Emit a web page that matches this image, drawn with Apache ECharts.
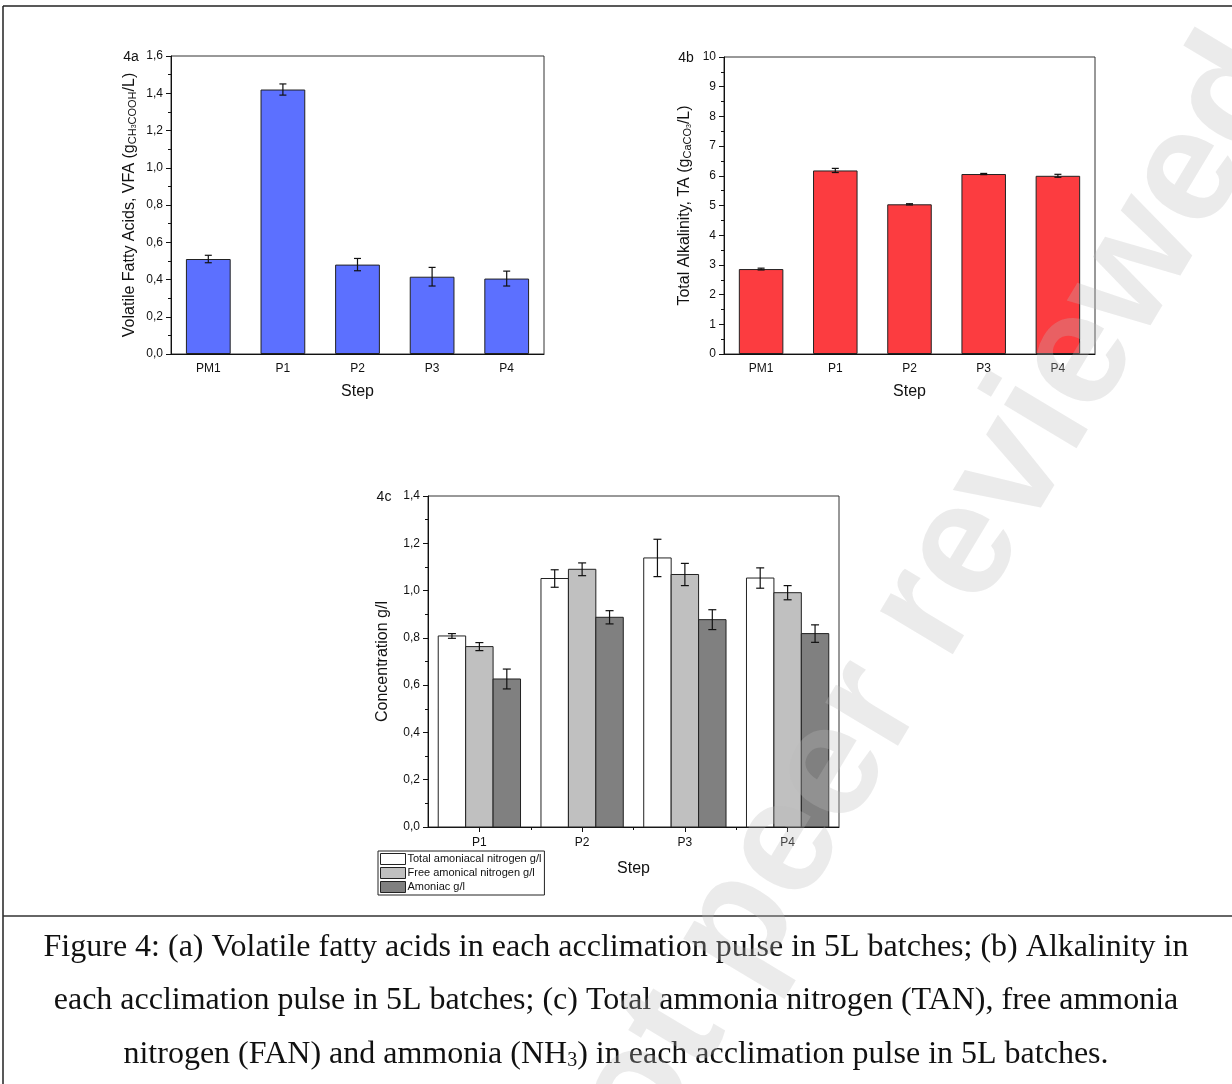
<!DOCTYPE html>
<html>
<head>
<meta charset="utf-8">
<script src="https://cdn.jsdelivr.net/npm/echarts@6/dist/echarts.min.js"></script>
<style>
  html, body { margin: 0; padding: 0; background: #fff; }
  #chart { width: 1232px; height: 1084px; }
</style>
</head>
<body>
<div id="chart"></div>
<script>
// Figure 4 data: VFA, alkalinity and nitrogen species per acclimation step
const vfaSteps = ['PM1', 'P1', 'P2', 'P3', 'P4'];
const vfaValues = [0.51, 1.42, 0.48, 0.415, 0.405];
const vfaErrors = [0.02, 0.03, 0.033, 0.05, 0.04];

const taSteps = ['PM1', 'P1', 'P2', 'P3', 'P4'];
const taValues = [2.86, 6.18, 5.04, 6.06, 6.00];
const taErrors = [0.03, 0.07, 0.02, 0.02, 0.05];

const nSteps = ['P1', 'P2', 'P3', 'P4'];
const nSeriesNames = ['Total amoniacal nitrogen g/l', 'Free amonical nitrogen g/l', 'Amoniac g/l'];
const tanValues = [0.808, 1.051, 1.138, 1.053];
const tanErrors = [0.01, 0.037, 0.079, 0.043];
const fanValues = [0.763, 1.090, 1.068, 0.991];
const fanErrors = [0.017, 0.027, 0.047, 0.03];
const nh3Values = [0.626, 0.887, 0.877, 0.818];
const nh3Errors = [0.042, 0.028, 0.042, 0.037];

const vfaTicks = { min: 0, max: 1.6, interval: 0.2 };
const taTicks = { min: 0, max: 10, interval: 1 };
const nTicks = { min: 0, max: 1.4, interval: 0.2 };

const FONT = "'Liberation Sans', Arial, sans-serif";
const SERIF = "'Liberation Serif', 'Times New Roman', serif";
const comma = v => v.toFixed(1).replace('.', ',');
const INK = '#111';

const chart = echarts.init(document.getElementById('chart'));

const subStyles = {
  s: { fontSize: 11, verticalAlign: 'bottom', fontFamily: FONT, color: INK },
  t: { fontSize: 7, verticalAlign: 'bottom', fontFamily: FONT, color: INK }
};

function yAxis(gridIndex, ticks, name, nameGap, fmt) {
  return {
    type: 'value', gridIndex, min: ticks.min, max: ticks.max, interval: ticks.interval,
    name, nameLocation: 'middle', nameRotate: 90, nameGap,
    nameTextStyle: { fontFamily: FONT, fontSize: 16, color: INK, rich: subStyles },
    axisLine: { show: true, lineStyle: { color: INK, width: 1 } },
    axisTick: { show: true, length: 5, lineStyle: { color: INK } },
    minorTick: { show: true, splitNumber: 2, length: 3, lineStyle: { color: INK } },
    splitLine: { show: false }, minorSplitLine: { show: false },
    axisLabel: { fontFamily: FONT, fontSize: 12, color: INK, margin: 8, formatter: fmt }
  };
}

function catAxes(gridIndex, cats) {
  return [
    {
      type: 'category', gridIndex, data: cats, position: 'bottom',
      name: 'Step', nameLocation: 'middle', nameGap: 30,
      nameTextStyle: { fontFamily: FONT, fontSize: 16, color: INK },
      axisLine: { lineStyle: { color: INK, width: 1 } },
      axisTick: { alignWithLabel: true, length: 5, lineStyle: { color: INK } },
      axisLabel: { fontFamily: FONT, fontSize: 12, color: INK, margin: 9 }
    },
    {
      type: 'category', gridIndex, data: cats, position: 'bottom', offset: 0,
      axisLine: { show: false },
      axisTick: { alignWithLabel: false, length: 3, lineStyle: { color: INK } },
      axisLabel: { show: false }
    }
  ];
}

// error bar: vertical whisker with caps, in data coordinates
function whisker(api, x, v, e, cap) {
  const lo = api.coord([x, v - e]);
  const hi = api.coord([x, v + e]);
  const st = { stroke: INK, lineWidth: 1.2 };
  return [
    { type: 'line', shape: { x1: lo[0], y1: lo[1], x2: hi[0], y2: hi[1] }, style: st },
    { type: 'line', shape: { x1: lo[0] - cap, y1: lo[1], x2: lo[0] + cap, y2: lo[1] }, style: st },
    { type: 'line', shape: { x1: hi[0] - cap, y1: hi[1], x2: hi[0] + cap, y2: hi[1] }, style: st }
  ];
}

function errorSeries(xAxisIndex, yAxisIndex, values, errors) {
  return {
    type: 'custom', xAxisIndex, yAxisIndex, z: 5, silent: true,
    data: values.map((v, i) => [i, v, errors[i]]),
    renderItem: (params, api) => ({
      type: 'group',
      children: whisker(api, api.value(0), api.value(1), api.value(2), 3.5)
    })
  };
}

// grouped bars of panel c on a value x-axis (step number 1..4)
const groupShare = 0.267;
function nitrogenSeries(k, name, values, errors, color) {
  return {
    type: 'custom', name, xAxisIndex: 4, yAxisIndex: 2,
    itemStyle: { color },
    data: values.map((v, i) => [i + 1, v, errors[i]]),
    renderItem: (params, api) => {
      const x = api.value(0), v = api.value(1), e = api.value(2);
      const x0 = x + (k - 1.5) * groupShare, x1 = x0 + groupShare;
      const a = api.coord([x0, v]);
      const b = api.coord([x1, 0]);
      const xc = (x0 + x1) / 2;
      return {
        type: 'group',
        children: [
          { type: 'rect', shape: { x: a[0], y: a[1], width: b[0] - a[0], height: b[1] - a[1] },
            style: { fill: color, stroke: '#222', lineWidth: 1 } }
        ].concat(whisker(api, xc, v, e, 4))
      };
    }
  };
}

const gridStyle = { show: true, borderColor: '#333', borderWidth: 1, backgroundColor: 'transparent' };

function centeredText(x, y, text, font, extra) {
  return {
    type: 'text', x, y, silent: true,
    style: Object.assign({ text, font, fill: INK, align: 'center', textAlign: 'center',
      verticalAlign: 'middle', textVerticalAlign: 'middle' }, extra || {})
  };
}

const option = {
  animation: false,
  backgroundColor: '#fff',
  textStyle: { fontFamily: FONT },
  grid: [
    Object.assign({ left: 171, top: 56, width: 373, height: 298 }, gridStyle),
    Object.assign({ left: 724, top: 57, width: 371, height: 297 }, gridStyle),
    Object.assign({ left: 428, top: 496, width: 411, height: 331 }, gridStyle)
  ],
  xAxis: [
    ...catAxes(0, vfaSteps),
    ...catAxes(1, taSteps),
    {
      type: 'value', gridIndex: 2, min: 0.5, max: 4.5, position: 'bottom',
      name: 'Step', nameLocation: 'middle', nameGap: 34,
      nameTextStyle: { fontFamily: FONT, fontSize: 16, color: INK },
      axisLine: { lineStyle: { color: INK, width: 1 } },
      axisTick: { show: true, length: 5, customValues: [1, 2, 3, 4], lineStyle: { color: INK } },
      axisLabel: { fontFamily: FONT, fontSize: 12, color: INK, margin: 10,
        customValues: [1, 2, 3, 4], formatter: v => nSteps[Math.round(v) - 1] },
      splitLine: { show: false }
    },
    {
      type: 'value', gridIndex: 2, min: 0.5, max: 4.5, position: 'bottom', offset: 0,
      axisLine: { show: false },
      axisTick: { show: true, length: 3, customValues: [1.5, 2.5, 3.5], lineStyle: { color: INK } },
      axisLabel: { show: false },
      splitLine: { show: false }
    }
  ],
  yAxis: [
    yAxis(0, vfaTicks, 'Volatile Fatty Acids, VFA (g{s|CH}{t|3}{s|COOH}/L)', 33, comma),
    yAxis(1, taTicks, 'Total Alkalinity, TA (g{s|CaCO}{t|3}/L)', 31, v => String(v)),
    yAxis(2, nTicks, 'Concentration g/l', 37, comma)
  ],
  legend: {
    orient: 'vertical', left: 378, top: 851,
    padding: [2, 3, 2, 2], itemGap: 2, itemWidth: 25, itemHeight: 11,
    icon: 'rect', borderColor: '#222', borderWidth: 1, backgroundColor: '#fff',
    textStyle: { fontFamily: FONT, fontSize: 11, color: INK, padding: [0, 0, 0, -3] },
    selectedMode: false,
    data: [
      { name: nSeriesNames[0], itemStyle: { color: '#ffffff', borderColor: '#222', borderWidth: 1 } },
      { name: nSeriesNames[1], itemStyle: { color: '#c0c0c0', borderColor: '#222', borderWidth: 1 } },
      { name: nSeriesNames[2], itemStyle: { color: '#808080', borderColor: '#222', borderWidth: 1 } }
    ]
  },
  series: [
    {
      type: 'bar', xAxisIndex: 0, yAxisIndex: 0, data: vfaValues, barWidth: '60%',
      itemStyle: { color: '#5c70ff', borderColor: '#222', borderWidth: 1 }
    },
    errorSeries(0, 0, vfaValues, vfaErrors),
    {
      type: 'bar', xAxisIndex: 2, yAxisIndex: 1, data: taValues, barWidth: '60%',
      itemStyle: { color: '#fc3c40', borderColor: '#222', borderWidth: 1 }
    },
    errorSeries(2, 1, taValues, taErrors),
    nitrogenSeries(0, nSeriesNames[0], tanValues, tanErrors, '#ffffff'),
    nitrogenSeries(1, nSeriesNames[1], fanValues, fanErrors, '#c0c0c0'),
    nitrogenSeries(2, nSeriesNames[2], nh3Values, nh3Errors, '#808080')
  ],
  graphic: [
    // page frame
    { type: 'line', shape: { x1: 3, y1: 6, x2: 1232, y2: 6 }, style: { stroke: '#222', lineWidth: 1.5 }, silent: true },
    { type: 'line', shape: { x1: 3, y1: 6, x2: 3, y2: 1084 }, style: { stroke: '#222', lineWidth: 1.5 }, silent: true },
    { type: 'line', shape: { x1: 3, y1: 916, x2: 1232, y2: 916 }, style: { stroke: '#333', lineWidth: 1.5 }, silent: true },
    // panel tags
    centeredText(131, 57, '4a', '14px ' + FONT),
    centeredText(686, 58, '4b', '14px ' + FONT),
    centeredText(384, 497, '4c', '14px ' + FONT),
    // caption
    centeredText(616, 948, 'Figure 4: (a) Volatile fatty acids in each acclimation pulse in 5L batches; (b) Alkalinity in', '32px ' + SERIF),
    centeredText(616, 1001, 'each acclimation pulse in 5L batches; (c) Total ammonia nitrogen (TAN), free ammonia', '32px ' + SERIF),
    centeredText(616, 1055, 'nitrogen (FAN) and ammonia (NH{s|3}) in each acclimation pulse in 5L batches.', '32px ' + SERIF,
      { rich: { s: { fontSize: 20, fontFamily: SERIF, verticalAlign: 'bottom', fill: INK } } }),
    // diagonal stamp across the page
    { type: 'text', x: 1262, y: 54, rotation: 59 * Math.PI / 180, z: 100, silent: true, style: {
        text: 'Preprint not peer reviewed', font: 'bold 160px ' + FONT, fill: 'rgba(185,185,185,0.29)',
        align: 'right', textAlign: 'right', verticalAlign: 'middle', textVerticalAlign: 'middle' } }
  ]
};

chart.setOption(option);
</script>
</body>
</html>
